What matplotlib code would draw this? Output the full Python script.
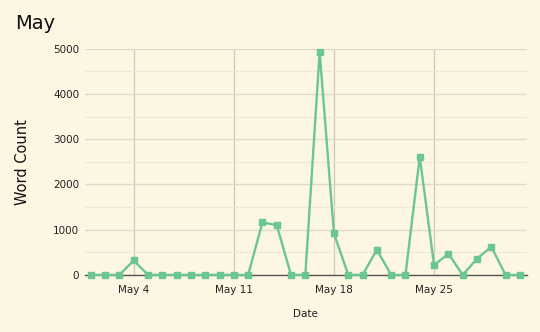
import numpy as np
import matplotlib
matplotlib.use('Agg')
import matplotlib.pyplot as plt
import matplotlib.dates as mdates
from matplotlib.ticker import MultipleLocator

# daily word counts, May 1 .. May 31
dates = np.arange(np.datetime64('2023-05-01'), np.datetime64('2023-06-01'))
word_count = [0, 0, 0, 320, 0, 0, 0, 0, 0, 0, 0, 0, 1160, 1100, 0, 0,
              4930, 920, 0, 0, 555, 0, 0, 2610, 215, 470, 0, 355, 625, 0, 0]
tick_dates = np.array(['2023-05-04', '2023-05-11', '2023-05-18', '2023-05-25'], dtype='datetime64[D]')
tick_labels = ['May 4', 'May 11', 'May 18', 'May 25']

bg = '#fdf6e3'
green = '#6cc68f'

fig = plt.figure(figsize=(5.4, 3.32), dpi=100, facecolor=bg)
ax = fig.add_axes([0.157, 0.172, 0.819, 0.681], facecolor=bg)

ax.plot(dates.astype('datetime64[D]').astype(object), word_count, color=green, lw=1.7,
        marker='s', ms=4.2, clip_on=False, zorder=3)

ax.set_ylim(0, 5000)
ax.set_xlim(mdates.date2num(dates[0].astype(object)) - 0.42,
            mdates.date2num(dates[-1].astype(object)) + 0.5)
ax.yaxis.set_major_locator(MultipleLocator(1000))
ax.yaxis.set_minor_locator(MultipleLocator(500))
ax.set_xticks(tick_dates.astype(object))
ax.set_xticklabels(tick_labels)

ax.grid(axis='y', which='major', color='#e2dac8', lw=1.0)
ax.grid(axis='y', which='minor', color='#efe8d6', lw=0.9)
ax.grid(axis='x', which='major', color='#cfc8b8', lw=0.9)
ax.set_axisbelow(True)

for s in ['top', 'right', 'left']:
    ax.spines[s].set_visible(False)
ax.spines['bottom'].set_color('#555555')
ax.spines['bottom'].set_linewidth(1.0)
ax.tick_params(axis='both', which='both', length=0, labelsize=7.5, colors='#222222')
ax.tick_params(axis='x', pad=7)
ax.tick_params(axis='y', pad=4)

ax.set_xlabel('Date', fontsize=7.5, labelpad=10.5, color='#222222')
ax.set_ylabel('Word Count', fontsize=10.5, labelpad=16.5, color='#111111')
fig.text(0.028, 0.93, 'May', fontsize=14, color='#111111', va='center')

fig.savefig('out.png', dpi=100, facecolor=bg)
